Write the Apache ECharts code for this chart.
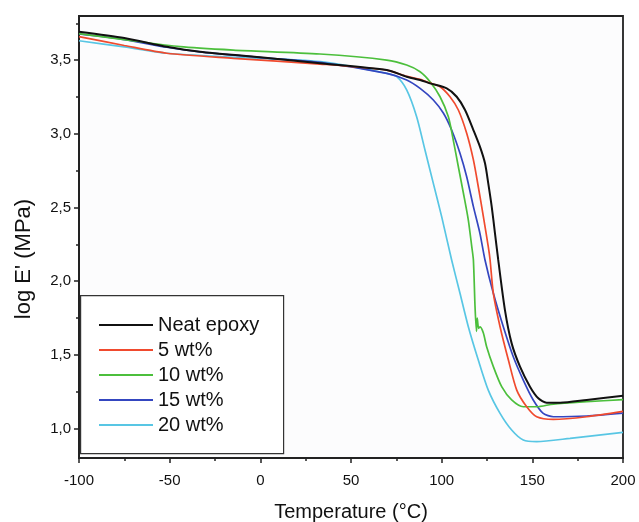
<!DOCTYPE html>
<html><head><meta charset="utf-8">
<script src="https://cdn.jsdelivr.net/npm/echarts@6/dist/echarts.min.js"></script>
<style>html,body{margin:0;padding:0;background:#fff}#c{width:639px;height:522px}</style>
</head><body><div id="c"></div>
<script>
const seriesNames = ['Neat epoxy', '5 wt%', '10 wt%', '15 wt%', '20 wt%'];
const seriesColors = ['#111111', '#f04a2e', '#4cbf3c', '#3446c0', '#58c6e4'];

const tempNeat = [-100, -75, -51.6, -33.3, 0, 32.9, 69.7, 80.7, 88.1, 93.6, 102.8, 108.3, 112.9, 117.5, 121.1, 123.9, 125.7, 127.6, 129.4, 131.2, 134.9, 138.6, 143.2, 148.7, 153.3, 157.9, 165.3, 180, 200];
const valNeat  = [3.693, 3.65, 3.592, 3.558, 3.52, 3.479, 3.433, 3.388, 3.366, 3.343, 3.309, 3.252, 3.162, 3.026, 2.913, 2.8, 2.664, 2.506, 2.325, 2.144, 1.804, 1.578, 1.42, 1.284, 1.205, 1.175, 1.175, 1.194, 1.222];

const temp5 = [-100, -75, -51.6, -14.9, 32.9, 69.7, 80.7, 88.1, 93.6, 99.1, 104.6, 109.2, 113.8, 117.5, 120.2, 123, 125.7, 126.7, 128.5, 132.2, 136.8, 141.4, 146.9, 152.4, 161.6, 180, 200];
const val5  = [3.66, 3.6, 3.547, 3.513, 3.474, 3.433, 3.39, 3.37, 3.345, 3.32, 3.252, 3.162, 3.004, 2.823, 2.641, 2.438, 2.234, 2.144, 1.918, 1.691, 1.465, 1.261, 1.148, 1.08, 1.062, 1.08, 1.116];

const temp10 = [-100, -75, -44.3, -14.9, 32.9, 69.7, 80.7, 88.1, 93.6, 99.1, 103.7, 106.4, 109.2, 112, 114.7, 116.6, 117.5, 118.4, 119.2, 119.6, 120.4, 121.2, 123, 124.8, 128.5, 133.1, 138.6, 145, 152.4, 161.6, 180, 200];
const val10  = [3.68, 3.64, 3.592, 3.569, 3.542, 3.501, 3.467, 3.422, 3.354, 3.252, 3.116, 2.958, 2.777, 2.597, 2.415, 2.234, 2.143, 1.827, 1.66, 1.75, 1.68, 1.69, 1.648, 1.555, 1.42, 1.284, 1.194, 1.148, 1.148, 1.166, 1.182, 1.196];

const temp15 = [-100, -75, -51.6, -33.3, 0, 32.9, 69.7, 80.7, 88.1, 95.4, 101, 105.5, 110.1, 113.8, 117.5, 121.1, 123.9, 128.5, 134, 139.5, 145, 150.5, 156, 161.6, 180, 200];
const val15  = [3.678, 3.64, 3.588, 3.556, 3.518, 3.485, 3.411, 3.366, 3.309, 3.23, 3.14, 3.026, 2.868, 2.709, 2.506, 2.325, 2.144, 1.918, 1.691, 1.487, 1.329, 1.194, 1.103, 1.08, 1.085, 1.105];

const temp20 = [-100, -75, -51.6, -14.9, 32.9, 69.7, 75.2, 80.7, 86.2, 90.8, 95.4, 100, 105.5, 110.1, 114.7, 120.2, 125.7, 132.2, 138.6, 145, 152.4, 170.8, 200];
const val20  = [3.632, 3.59, 3.547, 3.52, 3.49, 3.411, 3.388, 3.298, 3.116, 2.89, 2.664, 2.438, 2.144, 1.918, 1.691, 1.465, 1.261, 1.103, 0.99, 0.922, 0.911, 0.933, 0.974];

const xTicks = [-100, -50, 0, 50, 100, 150, 200];
const yTicks = [1.0, 1.5, 2.0, 2.5, 3.0, 3.5];
const yMinorTicks = [1.25, 1.75, 2.25, 2.75, 3.25, 3.75];

const temps = [tempNeat, temp5, temp10, temp15, temp20];
const vals = [valNeat, val5, val10, val15, val20];

const chart = echarts.init(document.getElementById('c'), null, {renderer: 'canvas'});
const FONT = 'Liberation Sans, Arial, sans-serif';
const series = seriesNames.map((n, i) => ({
  name: n, type: 'line', xAxisIndex: 0, yAxisIndex: 0,
  data: temps[i].map((t, j) => [t, vals[i][j]]),
  showSymbol: false, smooth: 0.25, z: 10 - i,
  lineStyle: {color: seriesColors[i], width: i === 0 ? 2 : 1.7},
  itemStyle: {color: seriesColors[i]}
}));

chart.setOption({
  animation: false,
  backgroundColor: '#fff',
  grid: {left: 79, right: 16, top: 16, bottom: 64, outerBoundsMode: 'none', containLabel: false,
    show: true, borderColor: '#222', borderWidth: 1.8, backgroundColor: '#fcfcfd'},
  graphic: [{type: 'rect', left: 80, top: 295, shape: {width: 203, height: 158}, style: {fill: '#fff', stroke: '#333', lineWidth: 1.2}, z: 100}],
  legend: {
    data: seriesNames, orient: 'vertical', left: 94, top: 310, itemWidth: 54, itemHeight: 2, itemGap: 5,
    icon: 'rect', z: 101,
    textStyle: {fontFamily: FONT, fontSize: 20, color: '#111'}
  },
  xAxis: [{
    type: 'value', min: -100, max: 200, interval: 50,
    name: 'Temperature (°C)', nameLocation: 'middle', nameGap: 44,
    nameTextStyle: {fontFamily: FONT, fontSize: 20, color: '#111'},
    axisLine: {onZero: false, lineStyle: {color: '#222', width: 2}},
    axisTick: {length: 5, lineStyle: {color: '#222', width: 1.5}},
    minorTick: {show: true, splitNumber: 2, length: 3, lineStyle: {color: '#222', width: 1.5}},
    splitLine: {show: false},
    axisLabel: {fontFamily: FONT, fontSize: 15, color: '#111', margin: 15}
  }],
  yAxis: [{
    type: 'value', min: 0.8, max: 3.8,
    name: "log E' (MPa)", nameLocation: 'middle', nameGap: 44, nameRotate: 90,
    nameTextStyle: {fontFamily: FONT, fontSize: 22, color: '#111', padding: [0, 44, 0, 0]},
    axisLine: {show: true, onZero: false, lineStyle: {color: '#222', width: 2}},
    axisTick: {show: true, length: 5, customValues: yTicks, lineStyle: {color: '#222', width: 1.5}},
    splitLine: {show: false},
    axisLabel: {customValues: yTicks, fontFamily: FONT, fontSize: 15, color: '#111', margin: 8,
      formatter: v => v.toFixed(1).replace('.', ',')}
  }, {
    type: 'value', min: 0.8, max: 3.8, position: 'left',
    axisLine: {show: false, onZero: false},
    axisTick: {show: true, length: 3, customValues: yMinorTicks, lineStyle: {color: '#222', width: 1.5}},
    axisLabel: {show: false}, splitLine: {show: false}
  }],
  series: series
});
</script></body></html>
